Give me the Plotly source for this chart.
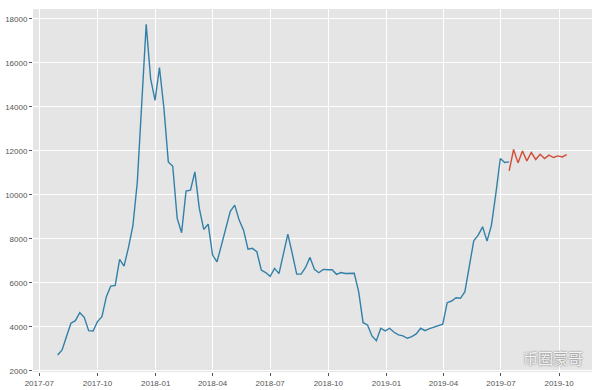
import pandas as pd
import plotly.graph_objects as go

# weekly close prices
price_values = [
    2726, 2950, 3560, 4165, 4283, 4647, 4437, 3830, 3816, 4238,
    4465, 5373, 5858, 5890, 7070, 6766, 7615, 8600, 10600, 14100,
    17750, 15285, 14300, 15785, 13950, 11500, 11300, 8930, 8280, 10170,
    10215, 11047, 9385, 8430, 8673, 7265, 6960, 7720, 8470, 9250,
    9535, 8854, 8400, 7537, 7570, 7415, 6585, 6470, 6300, 6660,
    6420, 7400, 8220, 7330, 6400, 6403, 6700, 7160, 6616, 6462,
    6616, 6600, 6600, 6390, 6470, 6430, 6420, 6435, 5600, 4190,
    4088, 3589, 3370, 3938, 3816, 3938, 3757, 3634, 3589, 3484,
    3557, 3680, 3938, 3830, 3920, 3984, 4043, 4120, 5100, 5177,
    5327, 5300, 5600, 6734, 7914, 8173, 8550, 7900, 8627, 10066,
    11655, 11473, 11500,
]
price_dates = pd.date_range("2017-07-30", periods=len(price_values), freq="7D")

# forecast
forecast_values = [
    11090, 12063, 11455, 12000, 11545, 11927, 11610, 11850, 11655, 11805,
    11700, 11773, 11727, 11836,
]
forecast_dates = pd.date_range(price_dates[-1], periods=len(forecast_values), freq="7D")

x_tick_vals = ["2017-07-01", "2017-10-01", "2018-01-01", "2018-04-01", "2018-07-01",
               "2018-10-01", "2019-01-01", "2019-04-01", "2019-07-01", "2019-10-01"]
x_tick_text = ["2017-07", "2017-10", "2018-01", "2018-04", "2018-07",
               "2018-10", "2019-01", "2019-04", "2019-07", "2019-10"]
y_tick_vals = [2000, 4000, 6000, 8000, 10000, 12000, 14000, 16000, 18000]
y_tick_text = [str(v) for v in y_tick_vals]

fig = go.Figure()
fig.add_trace(go.Scatter(x=price_dates, y=price_values, mode="lines",
                         line=dict(color="#3280a8", width=1.4), showlegend=False))
fig.add_trace(go.Scatter(x=forecast_dates, y=forecast_values, mode="lines",
                         line=dict(color="#d24c38", width=1.4), showlegend=False))

axis_font = dict(family="Liberation Sans, DejaVu Sans", size=8, color="#555555")
fig.update_layout(
    width=600, height=390,
    margin=dict(l=33, r=8, t=9, b=18),
    paper_bgcolor="white",
    plot_bgcolor="#E5E5E5",
    xaxis=dict(range=["2017-06-21", "2019-11-22"], tickvals=x_tick_vals, ticktext=x_tick_text,
               showgrid=True, gridcolor="white", gridwidth=1, zeroline=False,
               ticks="outside", ticklen=3, tickcolor="#555555", tickfont=axis_font,
               showline=False, automargin=False),
    yaxis=dict(range=[1950, 18450], tickvals=y_tick_vals, ticktext=y_tick_text,
               showgrid=True, gridcolor="white", gridwidth=1, zeroline=False,
               ticks="outside", ticklen=3, tickcolor="#555555", tickfont=axis_font,
               showline=False, automargin=False),
    annotations=[dict(text="币圈豪哥", xref="paper", yref="paper", x=0.93, y=0.04,
                      xanchor="center", yanchor="middle", showarrow=False,
                      font=dict(family="Noto Sans CJK SC", size=15, color="#f4f4f4",
                                shadow="0px 0px 2px #555555"))],
)

fig.write_html("out.html")
